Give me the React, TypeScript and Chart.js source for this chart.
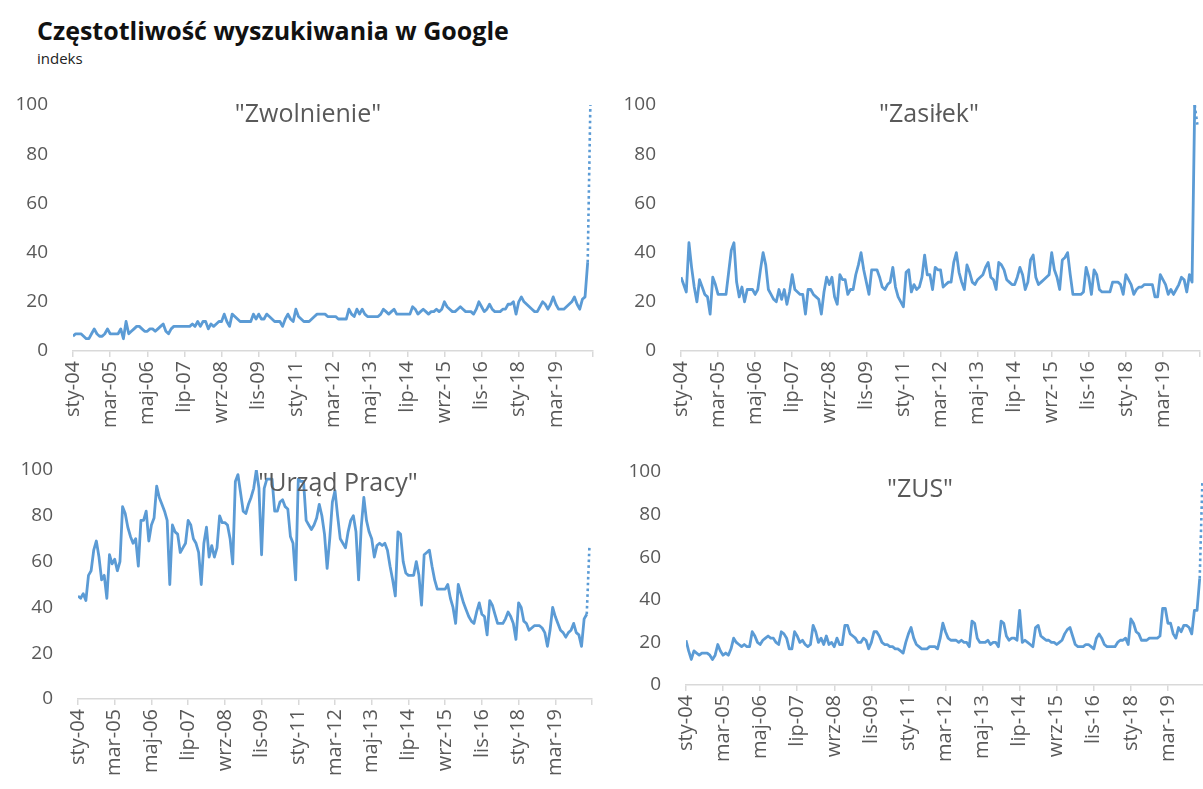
import React, { useEffect, useRef } from 'react';
import { Chart, registerables } from 'chart.js';

Chart.register(...registerables);

// x-axis tick labels, one every 14 months starting Jan 2004
const tickLabels = [
  'sty-04', 'mar-05', 'maj-06', 'lip-07', 'wrz-08', 'lis-09', 'sty-11',
  'mar-12', 'maj-13', 'lip-14', 'wrz-15', 'lis-16', 'sty-18', 'mar-19',
];
const TICK_STEP = 14;
const AXIS_MONTHS = 196;

// Monthly index values, Jan 2004 – Mar 2020
const zwolnienie = [
  6, 7, 7, 7, 6, 5, 5, 7, 9, 7, 6, 6,
  7, 9, 7, 7, 7, 7, 9, 5, 12, 7, 8, 9,
  10, 10, 9, 8, 8, 9, 9, 8, 9, 10, 11, 8,
  7, 9, 10, 10, 10, 10, 10, 10, 10, 11, 10, 12,
  10, 12, 12, 9, 11, 10, 11, 12, 12, 15, 12, 10,
  15, 14, 13, 12, 12, 12, 12, 12, 15, 13, 15, 13,
  13, 15, 14, 13, 12, 12, 12, 10, 13, 15, 13, 12,
  17, 14, 13, 12, 12, 12, 13, 14, 15, 15, 15, 15,
  14, 14, 14, 14, 13, 13, 13, 13, 17, 15, 14, 17,
  15, 17, 15, 14, 14, 14, 14, 14, 15, 17, 16, 15,
  16, 17, 15, 15, 15, 15, 15, 15, 18, 17, 15, 16,
  17, 16, 15, 16, 16, 17, 16, 17, 20, 18, 17, 16,
  16, 17, 18, 17, 16, 16, 16, 15, 17, 20, 18, 16,
  17, 19, 17, 16, 16, 16, 17, 17, 19, 19, 20, 15,
  20, 22, 20, 19, 18, 17, 16, 16, 18, 20, 19, 17,
  19, 22, 19, 17, 17, 17, 18, 19, 20, 22, 19, 17,
  21, 22, 36,
];
const zwolnienieDotted = [36, 100];

const zasilek = [
  30, 27, 24, 44, 34, 26, 20, 29, 26, 23, 22, 15,
  30, 27, 23, 23, 23, 23, 32, 41, 44, 28, 22, 26,
  20, 25, 25, 25, 23, 25, 33, 40, 35, 25, 23, 21,
  20, 25, 21, 25, 19, 24, 31, 25, 24, 23, 23, 15,
  25, 25, 23, 22, 21, 15, 24, 30, 27, 30, 22, 19,
  31, 29, 29, 23, 25, 25, 31, 35, 40, 33, 28, 23,
  33, 33, 33, 30, 26, 25, 27, 28, 34, 26, 22, 20,
  18, 32, 33, 24, 27, 25, 26, 30, 39, 31, 31, 25,
  34, 33, 33, 26, 27, 28, 28, 36, 40, 32, 28, 25,
  35, 32, 28, 27, 29, 30, 31, 34, 36, 30, 29, 25,
  36, 35, 33, 29, 28, 27, 27, 30, 34, 31, 25, 28,
  37, 39, 30, 27, 28, 29, 30, 31, 40, 33, 30, 25,
  37, 38, 40, 31, 23, 23, 23, 23, 24, 34, 30, 23,
  33, 31, 25, 24, 24, 24, 24, 28, 28, 28, 27, 23,
  31, 29, 27, 23, 25, 26, 26, 27, 27, 27, 27, 22,
  22, 31, 29, 27, 23, 25, 23, 25, 27, 30, 29, 24,
  31, 28, 100,
];
const zasilekDotted = [100, 92];

const urzadPracy = [
  45, 44, 46, 43, 54, 56, 65, 69, 62, 52, 54, 44,
  63, 59, 61, 56, 60, 84, 81, 75, 71, 68, 70, 58,
  78, 78, 82, 69, 76, 79, 93, 88, 85, 82, 78, 50,
  76, 73, 72, 64, 66, 68, 78, 76, 70, 68, 64, 50,
  68, 75, 62, 67, 62, 66, 80, 77, 77, 76, 70, 59,
  95, 98, 90, 82, 81, 85, 88, 92, 100, 92, 63, 92,
  96, 96, 96, 82, 82, 86, 87, 84, 83, 71, 68, 52,
  96, 95, 95, 78, 76, 74, 76, 79, 85, 80, 72, 57,
  70, 86, 91, 80, 70, 68, 66, 73, 78, 80, 73, 52,
  75, 88, 78, 73, 70, 62, 67, 68, 67, 68, 65, 58,
  52, 45, 73, 72, 60, 55, 54, 54, 54, 60, 54, 41,
  63, 64, 65, 58, 52, 48, 48, 48, 48, 50, 44, 40,
  33, 50, 46, 42, 39, 36, 34, 33, 38, 42, 37, 36,
  28, 43, 41, 37, 33, 33, 33, 35, 38, 36, 33, 26,
  42, 40, 34, 33, 30, 31, 32, 32, 32, 31, 29, 23,
  30, 40, 36, 33, 30, 29, 27, 29, 30, 33, 29, 28,
  23, 35, 37,
];
const urzadPracyDotted = [37, 66];

const zus = [
  21, 16, 12, 16, 15, 14, 15, 15, 15, 14, 12, 14,
  19, 16, 14, 15, 14, 17, 22, 20, 19, 18, 19, 18,
  18, 25, 23, 20, 19, 21, 22, 23, 22, 22, 20, 19,
  25, 24, 22, 17, 17, 25, 23, 20, 21, 19, 18, 19,
  28, 25, 20, 22, 19, 23, 19, 20, 18, 22, 19, 19,
  28, 28, 24, 23, 22, 20, 20, 22, 21, 17, 20, 25,
  25, 23, 20, 19, 19, 18, 18, 17, 17, 16, 15, 20,
  24, 27, 22, 19, 18, 17, 17, 17, 18, 18, 18, 17,
  22, 29, 25, 22, 21, 21, 21, 20, 21, 20, 20, 18,
  30, 29, 22, 20, 20, 20, 21, 19, 20, 20, 18, 30,
  29, 23, 21, 22, 22, 21, 35, 20, 21, 20, 19, 18,
  27, 28, 23, 22, 21, 21, 20, 20, 19, 20, 21, 24,
  26, 27, 23, 19, 18, 18, 18, 19, 19, 18, 17, 22,
  24, 22, 19, 18, 18, 18, 18, 20, 21, 21, 22, 19,
  31, 29, 25, 24, 21, 21, 21, 22, 22, 22, 22, 23,
  36, 36, 29, 29, 24, 22, 27, 25, 28, 28, 27, 24,
  35, 35, 50,
];
const zusDotted = [50, 95];

const FONT = "'Open Sans', 'DejaVu Sans', sans-serif";
const TEXT = '#595959';
const LINE = '#5B9BD5';
const AXIS = '#D9D9D9';

type PanelProps = {
  title: string;
  values: number[];
  dotted: number[];
  left: number;
  top: number;
  width: number;
  height: number;
  yAxisWidth: number;
  xAxisHeight: number;
  padTop: number;
  padRight: number;
  titleX: number;
  titleY: number;
};

function Panel(p: PanelProps) {
  const ref = useRef<HTMLCanvasElement>(null);
  useEffect(() => {
    if (!ref.current) return;
    const start = p.values.length - 1;
    const chart = new Chart(ref.current, {
      type: 'line',
      data: {
        datasets: [
          {
            data: p.values.map((v, i) => ({ x: i, y: v })),
            borderColor: LINE,
            borderWidth: 2.8,
            pointRadius: 0,
            tension: 0,
            fill: false,
            borderJoinStyle: 'round',
          },
          {
            data: p.dotted.map((v, i) => ({ x: start + i, y: v })),
            borderColor: LINE,
            borderWidth: 2.6,
            borderDash: [2.6, 3.2],
            pointRadius: 0,
            tension: 0,
            fill: false,
          },
        ],
      },
      options: {
        animation: false,
        responsive: false,
        devicePixelRatio: 1,
        layout: { padding: { top: p.padTop, right: p.padRight, left: 0, bottom: 0 } },
        plugins: {
          legend: { display: false },
          tooltip: { enabled: false },
          title: { display: false },
        },
        scales: {
          x: {
            type: 'linear',
            min: 0,
            max: AXIS_MONTHS,
            afterFit: (s: any) => {
              s.height = p.xAxisHeight;
              s.paddingRight = 0;
              s.paddingLeft = 0;
            },
            ticks: {
              stepSize: TICK_STEP,
              autoSkip: false,
              maxRotation: 90,
              minRotation: 90,
              color: TEXT,
              font: { family: FONT, size: 20 },
              padding: 4,
              callback: (v: any) => tickLabels[Math.round(Number(v) / TICK_STEP)] ?? '',
            },
            grid: {
              display: true,
              drawOnChartArea: false,
              drawTicks: true,
              tickLength: 6,
              color: AXIS,
              lineWidth: 1.5,
            },
            border: { display: true, color: AXIS, width: 1.5 },
          },
          y: {
            min: 0,
            max: 100,
            afterFit: (s: any) => {
              s.width = p.yAxisWidth;
            },
            ticks: {
              stepSize: 20,
              color: TEXT,
              font: { family: FONT, size: 19 },
              padding: 0,
            },
            grid: {
              display: true,
              drawOnChartArea: false,
              drawTicks: true,
              tickLength: 25,
              color: 'rgba(0,0,0,0)',
            },
            border: { display: false },
          },
        },
      },
    } as any);
    return () => chart.destroy();
  }, []);
  return (
    <>
      <canvas
        ref={ref}
        width={p.width}
        height={p.height}
        style={{ position: 'absolute', left: p.left, top: p.top, width: p.width, height: p.height }}
      />
      <div
        style={{
          position: 'absolute',
          left: p.titleX,
          top: p.titleY,
          transform: 'translate(-50%, -50%)',
          fontFamily: FONT,
          fontSize: 25,
          color: TEXT,
          whiteSpace: 'nowrap',
          lineHeight: 1,
        }}
      >
        {p.title}
      </div>
    </>
  );
}

export default function App() {
  return (
    <div
      style={{
        position: 'fixed',
        left: 0,
        top: 0,
        width: 1203,
        height: 789,
        overflow: 'hidden',
        background: '#ffffff',
      }}
    >
      <div
        style={{
          position: 'absolute',
          left: 37,
          top: 18,
          fontFamily: FONT,
          fontWeight: 700,
          fontSize: 25,
          lineHeight: 1,
          color: '#111111',
          whiteSpace: 'nowrap',
        }}
      >
        Częstotliwość wyszukiwania w Google
      </div>
      <div
        style={{
          position: 'absolute',
          left: 37,
          top: 51,
          fontFamily: FONT,
          fontSize: 15,
          lineHeight: 1,
          color: '#222222',
        }}
      >
        indeks
      </div>
      <Panel
        title={'"Zwolnienie"'}
        values={zwolnienie}
        dotted={zwolnienieDotted}
        left={0}
        top={90}
        width={600}
        height={350}
        yAxisWidth={73}
        xAxisHeight={89}
        padTop={15}
        padRight={7}
        titleX={308}
        titleY={112}
      />
      <Panel
        title={'"Zasiłek"'}
        values={zasilek}
        dotted={zasilekDotted}
        left={600}
        top={90}
        width={603}
        height={350}
        yAxisWidth={81}
        xAxisHeight={89}
        padTop={15}
        padRight={3}
        titleX={929}
        titleY={112}
      />
      <Panel
        title={'"Urząd Pracy"'}
        values={urzadPracy}
        dotted={urzadPracyDotted}
        left={0}
        top={455}
        width={600}
        height={334}
        yAxisWidth={78}
        xAxisHeight={90}
        padTop={15}
        padRight={8}
        titleX={338}
        titleY={481}
      />
      <Panel
        title={'"ZUS"'}
        values={zus}
        dotted={zusDotted}
        left={600}
        top={455}
        width={610}
        height={334}
        yAxisWidth={86}
        xAxisHeight={104}
        padTop={17}
        padRight={5}
        titleX={920}
        titleY={487}
      />
    </div>
  );
}
